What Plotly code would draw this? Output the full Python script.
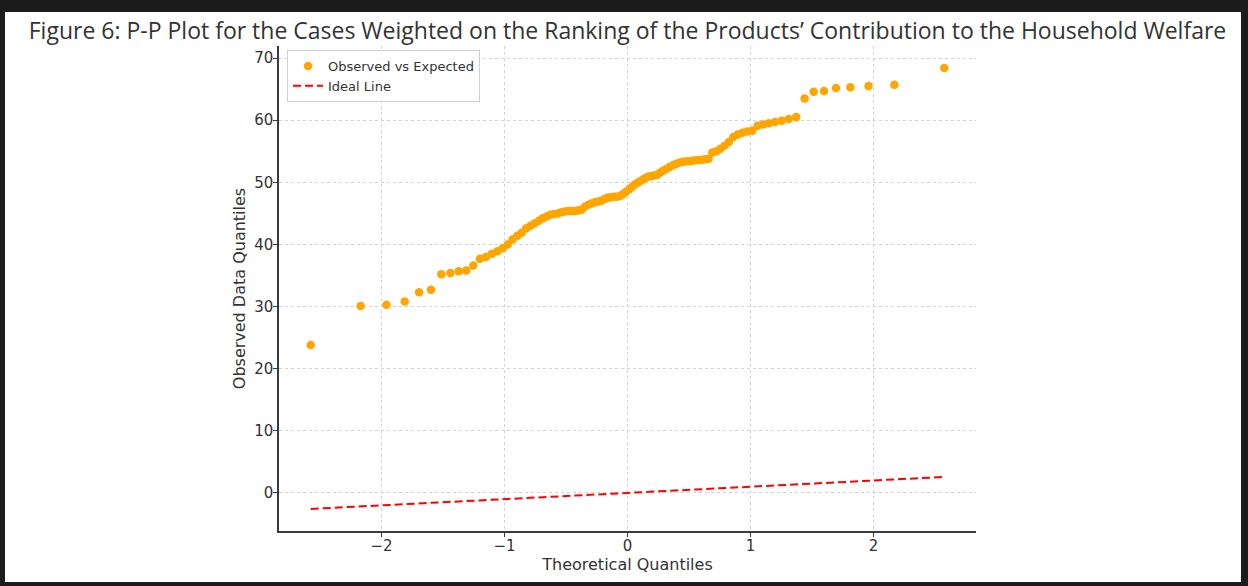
import plotly.graph_objects as go

TITLE = "Figure 6: P-P Plot for the Cases Weighted on the Ranking of the Products’ Contribution to the Household Welfare"

theoretical_quantiles = [
    -2.576, -2.170, -1.960, -1.812, -1.695, -1.598, -1.514, -1.440, -1.372, -1.311,
    -1.254, -1.200, -1.150, -1.103, -1.058, -1.015, -0.974, -0.935, -0.896, -0.860,
    -0.824, -0.789, -0.755, -0.722, -0.690, -0.659, -0.628, -0.598, -0.568, -0.539,
    -0.510, -0.482, -0.454, -0.426, -0.399, -0.372, -0.345, -0.319, -0.292, -0.266,
    -0.240, -0.215, -0.189, -0.164, -0.138, -0.113, -0.088, -0.063, -0.038, -0.013,
    0.013, 0.038, 0.063, 0.088, 0.113, 0.138, 0.164, 0.189, 0.215, 0.240,
    0.266, 0.292, 0.319, 0.345, 0.372, 0.399, 0.426, 0.454, 0.482, 0.510,
    0.539, 0.568, 0.598, 0.628, 0.659, 0.690, 0.722, 0.755, 0.789, 0.824,
    0.860, 0.896, 0.935, 0.974, 1.015, 1.058, 1.103, 1.150, 1.200, 1.254,
    1.311, 1.372, 1.440, 1.514, 1.598, 1.695, 1.812, 1.960, 2.170, 2.576,
]

observed_quantiles = [
    23.8, 30.1, 30.3, 30.8, 32.3, 32.7, 35.2, 35.4, 35.7, 35.8,
    36.6, 37.7, 38.0, 38.5, 38.9, 39.4, 40.0, 40.8, 41.4, 41.9,
    42.6, 43.0, 43.4, 43.8, 44.2, 44.5, 44.8, 44.9, 45.0, 45.2,
    45.3, 45.4, 45.4, 45.4, 45.5, 45.6, 46.1, 46.4, 46.6, 46.8,
    46.9, 47.0, 47.3, 47.5, 47.6, 47.7, 47.7, 47.8, 48.1, 48.5,
    48.9, 49.3, 49.7, 50.0, 50.3, 50.6, 50.9, 51.0, 51.1, 51.2,
    51.6, 51.9, 52.2, 52.5, 52.8, 53.0, 53.2, 53.3, 53.4, 53.4,
    53.5, 53.6, 53.6, 53.7, 53.8, 54.8, 55.0, 55.4, 55.9, 56.5,
    57.3, 57.7, 58.0, 58.2, 58.3, 59.1, 59.3, 59.5, 59.7, 59.9,
    60.2, 60.5, 63.5, 64.6, 64.7, 65.2, 65.3, 65.5, 65.7, 68.4,
]

x_ticks = [-2, -1, 0, 1, 2]
x_tick_labels = ["−2", "−1", "0", "1", "2"]
y_ticks = [0, 10, 20, 30, 40, 50, 60, 70]

ideal_x = [min(theoretical_quantiles), max(theoretical_quantiles)]
ideal_y = ideal_x[:]

fig = go.Figure()
fig.add_trace(go.Scatter(
    x=theoretical_quantiles, y=observed_quantiles, mode="markers",
    name="Observed vs Expected",
    marker=dict(color="#FFA500", size=8.5, line=dict(width=0)),
))
fig.add_trace(go.Scatter(
    x=ideal_x, y=ideal_y, mode="lines", name="Ideal Line",
    line=dict(color="#FF0000", width=2, dash="8px,4px"),
))

W, H = 1248, 586
L, R, T, B = 279, 272, 46, 55
pw, ph = W - L - R, H - T - B

def px(p):
    return (p - L) / pw

def py(p):
    return (H - B - p) / ph

border = "#1c1c1c"
shapes = [
    dict(type="rect", xref="paper", yref="paper", x0=px(0), x1=px(W), y0=py(0), y1=py(12),
         fillcolor=border, line=dict(width=0), layer="above"),
    dict(type="rect", xref="paper", yref="paper", x0=px(0), x1=px(W), y0=py(582), y1=py(H),
         fillcolor=border, line=dict(width=0), layer="above"),
    dict(type="rect", xref="paper", yref="paper", x0=px(0), x1=px(5), y0=py(0), y1=py(H),
         fillcolor=border, line=dict(width=0), layer="above"),
    dict(type="rect", xref="paper", yref="paper", x0=px(1241), x1=px(W), y0=py(0), y1=py(H),
         fillcolor=border, line=dict(width=0), layer="above"),
]

axis_common = dict(
    showline=True, linecolor="#3a3a3a", linewidth=1.5,
    ticks="outside", ticklen=4, tickcolor="#3a3a3a", tickwidth=1,
    showgrid=True, gridcolor="#d3d3d3", gridwidth=1, griddash="3px,3px",
    zeroline=False, mirror=False,
    tickfont=dict(family="DejaVu Sans", size=15, color="#333333"),
)

fig.update_layout(
    width=W, height=H,
    paper_bgcolor="white", plot_bgcolor="white",
    margin=dict(l=L, r=R, t=T, b=B),
    title=dict(text=TITLE, x=0.5, xref="paper", xanchor="center",
               y=1 - 31 / H, yref="container", yanchor="middle",
               font=dict(family="Open Sans", size=23, color="#333333")),
    xaxis=dict(range=[-2.834, 2.834], tickvals=x_ticks, ticktext=x_tick_labels,
               ticklabelstandoff=-4,
               title=dict(text="Theoretical Quantiles", standoff=3,
                          font=dict(family="DejaVu Sans", size=16, color="#333333")),
               **axis_common),
    yaxis=dict(range=[-6.13, 71.95], tickvals=y_ticks, ticklabelstandoff=-3,
               title=dict(text="Observed Data Quantiles", standoff=5,
                          font=dict(family="DejaVu Sans", size=16, color="#333333")),
               **axis_common),
    legend=dict(x=px(287), y=py(50), xanchor="left", yanchor="top",
                bgcolor="rgba(255,255,255,0.85)", bordercolor="#d0d0d0", borderwidth=1,
                font=dict(family="DejaVu Sans", size=13, color="#333333"),
                tracegroupgap=0, itemwidth=30),
    showlegend=True,
    shapes=shapes,
)

fig.write_html(
    "out.html",
    config={"displayModeBar": False},
    post_script="document.body.style.margin='0';document.body.style.background='#1c1c1c';",
)
